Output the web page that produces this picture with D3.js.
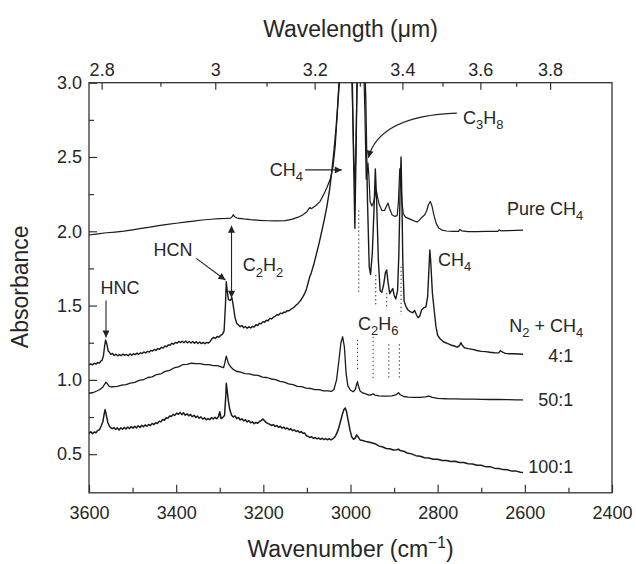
<!DOCTYPE html>
<html><head><meta charset="utf-8">
<script src="https://cdn.jsdelivr.net/npm/d3@7"></script>
<style>
body{margin:0;background:#fff}
svg{display:block}
text{font-family:"Liberation Sans",Arial,Helvetica,sans-serif;fill:#262626}
</style></head><body>
<svg id="c" width="636" height="564"></svg>
<script>
// ---------------- data ----------------
const bottomTicks = [3600,3400,3200,3000,2800,2600,2400];
const bottomMinor = [3500,3300,3100,2900,2700,2500];
const leftTicks = [0.5,1.0,1.5,2.0,2.5,3.0];
const leftMinor = [0.75,1.25,1.75,2.25,2.75];
const topTicks = [2.8,3,3.2,3.4,3.6,3.8];      // wavelength (µm)
const topMinor = [2.9,3.1,3.3,3.5,3.7];
const topCalib = [3571,2542];                   // wavenumber-axis positions of the 2.8 and 3.8 µm ticks

const seriesNames = ["Pure CH4","4:1","50:1","100:1"];

const pureCH4 = [[3600,1.975],[3580,1.983],[3560,1.990],[3540,1.995],[3520,2.001],[3500,2.010],[3480,2.020],[3460,2.028],[3440,2.038],[3420,2.046],[3400,2.054],[3380,2.062],[3360,2.069],[3340,2.076],[3320,2.081],[3300,2.085],[3285,2.087],[3275,2.089],[3271,2.100],[3269,2.112],[3266,2.098],[3260,2.089],[3245,2.083],[3230,2.078],[3210,2.074],[3190,2.071],[3170,2.070],[3150,2.072],[3135,2.080],[3120,2.095],[3110,2.110],[3100,2.132],[3096,2.150],[3093,2.160],[3090,2.152],[3080,2.172],[3070,2.200],[3062,2.245],[3054,2.295],[3046,2.355],[3040,2.435],[3035,2.575],[3031,2.760],[3027,2.980],[3024,3.150],[2998,3.150],[2995,2.800],[2992,2.450],[2990,2.320],[2988,2.500],[2985,3.000],[2982,3.150],[2970,3.150],[2967,2.800],[2964,2.350],[2962,2.400],[2960,2.460],[2958,2.380],[2955,2.200],[2951,2.170],[2947,2.195],[2944,2.235],[2941,2.280],[2938,2.230],[2934,2.180],[2928,2.140],[2922,2.140],[2918,2.165],[2914,2.190],[2910,2.150],[2905,2.112],[2898,2.100],[2893,2.105],[2890,2.200],[2887,2.420],[2885,2.380],[2882,2.200],[2879,2.120],[2874,2.095],[2866,2.085],[2858,2.075],[2852,2.068],[2847,2.062],[2842,2.075],[2836,2.095],[2830,2.110],[2825,2.140],[2821,2.180],[2817,2.200],[2813,2.170],[2808,2.100],[2803,2.050],[2797,2.020],[2790,2.008],[2780,2.002],[2765,2.000],[2752,2.000],[2749,2.012],[2745,2.003],[2730,1.998],[2710,1.998],[2690,1.999],[2670,2.000],[2662,2.000],[2659,2.010],[2655,2.003],[2640,2.004],[2620,2.006],[2604,2.008]];

const mix4to1 = [[3600,1.100],[3596,1.108],[3592,1.101],[3588,1.112],[3584,1.106],[3580,1.117],[3576,1.113],[3573,1.126],[3570,1.132],[3567,1.160],[3564,1.230],[3562,1.268],[3559,1.240],[3556,1.195],[3553,1.186],[3550,1.172],[3546,1.178],[3542,1.164],[3538,1.173],[3534,1.162],[3530,1.170],[3526,1.163],[3522,1.174],[3518,1.165],[3514,1.171],[3510,1.163],[3506,1.175],[3502,1.166],[3498,1.176],[3494,1.170],[3490,1.180],[3486,1.172],[3482,1.182],[3478,1.177],[3474,1.188],[3470,1.181],[3466,1.192],[3462,1.187],[3458,1.198],[3454,1.194],[3450,1.205],[3446,1.199],[3442,1.211],[3438,1.206],[3434,1.219],[3430,1.214],[3426,1.228],[3422,1.222],[3418,1.236],[3414,1.233],[3410,1.246],[3406,1.240],[3402,1.252],[3398,1.247],[3394,1.259],[3390,1.251],[3386,1.260],[3382,1.250],[3378,1.261],[3374,1.249],[3370,1.258],[3366,1.248],[3362,1.259],[3358,1.247],[3354,1.256],[3350,1.245],[3346,1.255],[3342,1.244],[3338,1.252],[3334,1.243],[3330,1.253],[3326,1.248],[3322,1.259],[3318,1.276],[3314,1.286],[3310,1.279],[3306,1.292],[3302,1.287],[3298,1.300],[3294,1.306],[3290,1.330],[3287,1.500],[3285,1.660],[3283,1.600],[3280,1.540],[3276,1.535],[3272,1.552],[3269,1.500],[3265,1.420],[3261,1.380],[3257,1.370],[3253,1.358],[3249,1.366],[3245,1.351],[3241,1.359],[3237,1.348],[3233,1.357],[3229,1.349],[3225,1.360],[3221,1.356],[3217,1.371],[3213,1.366],[3209,1.381],[3205,1.377],[3201,1.392],[3197,1.388],[3193,1.401],[3189,1.398],[3185,1.414],[3181,1.410],[3177,1.422],[3173,1.428],[3169,1.438],[3165,1.436],[3161,1.449],[3157,1.446],[3153,1.456],[3149,1.455],[3145,1.466],[3141,1.465],[3137,1.474],[3133,1.482],[3129,1.490],[3125,1.502],[3121,1.512],[3117,1.525],[3113,1.541],[3109,1.560],[3105,1.582],[3101,1.612],[3097,1.655],[3094,1.690],[3090,1.720],[3084,1.780],[3078,1.850],[3072,1.920],[3066,2.000],[3060,2.080],[3054,2.170],[3048,2.280],[3043,2.400],[3038,2.540],[3033,2.700],[3029,2.860],[3025,3.020],[3021,3.150],[3000,3.150],[2996,3.050],[2993,2.500],[2990,2.020],[2988,2.400],[2985,3.000],[2982,3.150],[2968,3.150],[2965,2.900],[2961,2.200],[2957,1.760],[2954,1.710],[2950,1.850],[2946,2.150],[2943,2.420],[2940,2.200],[2936,1.800],[2932,1.600],[2928,1.590],[2924,1.640],[2920,1.720],[2917,1.740],[2914,1.660],[2910,1.580],[2906,1.600],[2903,1.615],[2900,1.570],[2896,1.545],[2892,1.600],[2889,1.850],[2886,2.300],[2884,2.500],[2882,2.200],[2880,1.800],[2877,1.530],[2873,1.495],[2868,1.470],[2862,1.458],[2857,1.452],[2853,1.468],[2849,1.440],[2845,1.418],[2841,1.430],[2837,1.470],[2832,1.485],[2827,1.492],[2823,1.560],[2820,1.750],[2818,1.874],[2816,1.800],[2812,1.580],[2808,1.470],[2804,1.360],[2800,1.300],[2794,1.275],[2786,1.255],[2778,1.245],[2770,1.235],[2762,1.228],[2755,1.220],[2750,1.230],[2747,1.250],[2744,1.235],[2738,1.215],[2730,1.210],[2720,1.205],[2710,1.198],[2700,1.192],[2690,1.190],[2680,1.186],[2670,1.183],[2660,1.182],[2656,1.196],[2652,1.188],[2645,1.178],[2635,1.176],[2625,1.176],[2615,1.174],[2604,1.172]];

const mix50to1 = [[3600,0.910],[3590,0.915],[3582,0.925],[3575,0.935],[3568,0.952],[3564,0.972],[3561,0.984],[3558,0.975],[3554,0.958],[3549,0.952],[3542,0.955],[3535,0.956],[3525,0.964],[3515,0.968],[3505,0.978],[3495,0.983],[3485,0.996],[3475,1.001],[3465,1.016],[3455,1.020],[3445,1.036],[3435,1.041],[3425,1.057],[3415,1.064],[3405,1.080],[3395,1.088],[3385,1.102],[3375,1.104],[3365,1.112],[3355,1.110],[3345,1.110],[3335,1.102],[3325,1.102],[3315,1.096],[3305,1.096],[3297,1.088],[3291,1.082],[3288,1.120],[3285,1.160],[3283,1.140],[3280,1.110],[3276,1.092],[3270,1.072],[3262,1.058],[3252,1.052],[3242,1.042],[3232,1.040],[3222,1.032],[3212,1.030],[3202,1.018],[3192,1.016],[3182,1.006],[3172,1.002],[3162,0.990],[3152,0.985],[3142,0.973],[3132,0.968],[3122,0.956],[3112,0.954],[3102,0.944],[3092,0.942],[3082,0.934],[3072,0.934],[3062,0.926],[3052,0.926],[3044,0.922],[3038,0.935],[3032,1.000],[3027,1.120],[3022,1.250],[3018,1.290],[3014,1.220],[3010,1.040],[3006,0.960],[3000,0.930],[2994,0.920],[2989,0.935],[2986,0.970],[2984,0.988],[2982,0.960],[2978,0.925],[2972,0.912],[2965,0.905],[2958,0.898],[2952,0.900],[2948,0.906],[2944,0.898],[2935,0.892],[2925,0.890],[2915,0.890],[2905,0.892],[2895,0.900],[2890,0.914],[2886,0.900],[2878,0.888],[2868,0.884],[2855,0.882],[2840,0.882],[2828,0.886],[2820,0.890],[2812,0.882],[2800,0.876],[2780,0.873],[2760,0.872],[2740,0.870],[2720,0.870],[2700,0.869],[2680,0.868],[2660,0.868],[2640,0.867],[2620,0.866],[2604,0.865]];

const mix100to1 = [[3600,0.640],[3596,0.651],[3592,0.638],[3588,0.649],[3584,0.644],[3580,0.660],[3576,0.664],[3572,0.690],[3568,0.720],[3565,0.775],[3563,0.800],[3560,0.760],[3557,0.715],[3554,0.694],[3551,0.680],[3547,0.671],[3543,0.679],[3539,0.666],[3535,0.677],[3531,0.663],[3527,0.678],[3523,0.668],[3519,0.680],[3515,0.669],[3511,0.683],[3507,0.672],[3503,0.686],[3499,0.675],[3495,0.688],[3491,0.677],[3487,0.691],[3483,0.680],[3479,0.694],[3475,0.684],[3471,0.697],[3467,0.688],[3463,0.700],[3459,0.692],[3455,0.707],[3451,0.699],[3447,0.712],[3443,0.706],[3439,0.722],[3435,0.717],[3431,0.733],[3427,0.728],[3423,0.745],[3419,0.741],[3415,0.757],[3411,0.753],[3407,0.768],[3403,0.761],[3399,0.776],[3395,0.768],[3391,0.781],[3387,0.766],[3383,0.778],[3379,0.762],[3375,0.772],[3371,0.758],[3367,0.768],[3363,0.752],[3359,0.762],[3355,0.747],[3351,0.756],[3347,0.742],[3343,0.751],[3339,0.736],[3335,0.745],[3331,0.731],[3327,0.740],[3323,0.732],[3319,0.746],[3315,0.737],[3311,0.748],[3307,0.739],[3303,0.752],[3300,0.786],[3297,0.740],[3293,0.748],[3289,0.760],[3286,0.900],[3285,0.977],[3283,0.930],[3280,0.853],[3277,0.800],[3273,0.763],[3269,0.750],[3265,0.758],[3261,0.740],[3257,0.747],[3253,0.730],[3249,0.738],[3245,0.724],[3241,0.732],[3237,0.717],[3233,0.725],[3229,0.711],[3225,0.718],[3221,0.705],[3217,0.714],[3213,0.708],[3209,0.720],[3205,0.726],[3201,0.737],[3197,0.724],[3193,0.712],[3189,0.706],[3185,0.700],[3181,0.693],[3177,0.699],[3173,0.686],[3169,0.693],[3165,0.681],[3161,0.688],[3157,0.675],[3153,0.682],[3149,0.670],[3145,0.676],[3141,0.664],[3137,0.671],[3133,0.658],[3129,0.664],[3125,0.652],[3121,0.658],[3117,0.646],[3113,0.652],[3109,0.640],[3105,0.642],[3101,0.624],[3097,0.620],[3093,0.612],[3089,0.617],[3085,0.606],[3081,0.612],[3077,0.603],[3073,0.609],[3069,0.600],[3065,0.607],[3061,0.598],[3057,0.605],[3053,0.597],[3049,0.604],[3045,0.596],[3041,0.603],[3037,0.612],[3034,0.625],[3028,0.665],[3023,0.720],[3019,0.765],[3015,0.800],[3012,0.810],[3009,0.785],[3005,0.720],[3001,0.660],[2997,0.615],[2993,0.600],[2989,0.610],[2986,0.630],[2983,0.618],[2978,0.596],[2972,0.592],[2965,0.586],[2958,0.582],[2950,0.575],[2942,0.568],[2934,0.554],[2926,0.548],[2918,0.538],[2910,0.536],[2902,0.528],[2894,0.530],[2890,0.534],[2886,0.524],[2878,0.520],[2870,0.508],[2860,0.502],[2850,0.490],[2840,0.486],[2830,0.476],[2820,0.474],[2810,0.466],[2800,0.466],[2790,0.458],[2780,0.458],[2770,0.451],[2760,0.452],[2750,0.444],[2740,0.444],[2730,0.436],[2720,0.434],[2710,0.426],[2700,0.425],[2690,0.416],[2680,0.416],[2670,0.406],[2660,0.404],[2650,0.396],[2640,0.395],[2630,0.386],[2620,0.386],[2610,0.379],[2604,0.376]];

// C2H6 marker lines: [wavenumber, top absorbance, bottom absorbance]
const c2h6Upper = [[2981,2.14,1.59],[2942,1.706,1.503],[2917,1.585,1.49],[2884,1.762,1.437]];
const c2h6Lower = [[2984,1.27,1.06],[2948,1.29,1.01],[2912,1.24,1.01],[2888,1.24,1.00]];

// ---------------- chart ----------------
const svg = d3.select("#c");
const M = {l:89, r:612, t:82.7, b:492.8};
const x = d3.scaleLinear().domain([3600,2400]).range([M.l,M.r]);
const y = d3.scaleLinear().domain([0.24,3.0]).range([M.b,M.t]);
const xTop = d3.scaleLinear().domain([10000/2.8,10000/3.8]).range([x(topCalib[0]), x(topCalib[1])]);

const defs = svg.append("defs");
defs.append("clipPath").attr("id","clip").append("rect")
  .attr("x",M.l).attr("y",M.t).attr("width",M.r-M.l).attr("height",M.b-M.t);
defs.append("marker").attr("id","ah").attr("viewBox","0 0 10 10").attr("refX",10).attr("refY",5)
  .attr("markerWidth",11).attr("markerHeight",7).attr("markerUnits","userSpaceOnUse")
  .attr("orient","auto-start-reverse")
  .append("path").attr("d","M0,0L10,5L0,10z").attr("fill","#222");

const AX = "#333";
function styleAxis(g, fs){
  g.select(".domain").remove();
  g.selectAll(".tick line").attr("stroke",AX).attr("stroke-width",1.2);
  g.selectAll(".tick text").attr("font-size",fs).attr("fill","#262626")
    .attr("font-family",'"Liberation Sans",Arial,sans-serif');
  g.attr("font-family",null).attr("font-size",null);
}

// bottom
styleAxis(svg.append("g").attr("transform",`translate(0,${M.b})`)
  .call(d3.axisBottom(x).tickValues(bottomTicks).tickSize(-8).tickPadding(13).tickFormat(d3.format("d"))),18);
styleAxis(svg.append("g").attr("transform",`translate(0,${M.b})`)
  .call(d3.axisBottom(x).tickValues(bottomMinor).tickSize(-5).tickFormat("")),18);
// left
styleAxis(svg.append("g").attr("transform",`translate(${M.l},0)`)
  .call(d3.axisLeft(y).tickValues(leftTicks).tickSize(-8).tickPadding(7).tickFormat(d3.format(".1f"))),18);
styleAxis(svg.append("g").attr("transform",`translate(${M.l},0)`)
  .call(d3.axisLeft(y).tickValues(leftMinor).tickSize(-5).tickFormat("")),18);
// top
styleAxis(svg.append("g").attr("transform",`translate(0,${M.t})`)
  .call(d3.axisTop(xTop).tickValues(topTicks.map(m=>10000/m)).tickSize(-7).tickPadding(7)
    .tickFormat(d=>String(+(10000/d).toFixed(1)))),18);
styleAxis(svg.append("g").attr("transform",`translate(0,${M.t})`)
  .call(d3.axisTop(xTop).tickValues(topMinor.map(m=>10000/m)).tickSize(-4).tickFormat("")),18);

// frame
svg.append("rect").attr("x",M.l).attr("y",M.t).attr("width",M.r-M.l).attr("height",M.b-M.t)
  .attr("fill","none").attr("stroke",AX).attr("stroke-width",1.3);

// spectra
const line = d3.line().x(d=>x(d[0])).y(d=>y(d[1]));
const plot = svg.append("g").attr("clip-path","url(#clip)");
[[pureCH4,1.2],[mix4to1,1.4],[mix50to1,1.3],[mix100to1,1.5]].forEach(([s,w])=>{
  plot.append("path").datum(s).attr("d",line).attr("fill","none")
    .attr("stroke","#1a1a1a").attr("stroke-width",w).attr("stroke-linejoin","round");
});

// dotted C2H6 markers
[...c2h6Upper,...c2h6Lower].forEach(([w,a,b])=>{
  svg.append("line").attr("x1",x(w)).attr("x2",x(w)).attr("y1",y(a)).attr("y2",y(b))
    .attr("stroke","#333").attr("stroke-width",1).attr("stroke-dasharray","1.4,2.6");
});

// rich text helper (sub/superscripts)
function rich(px,py,parts,anchor,size){
  const t = svg.append("text").attr("x",px).attr("y",py).attr("text-anchor",anchor||"start").attr("font-size",size);
  let shift = 0;
  parts.forEach(p=>{
    let target=0, txt=p, fs=null;
    if (typeof p!=="string"){
      if (p.sub!==undefined){target=size*0.3; txt=p.sub; fs=size*0.72;}
      else {target=-size*0.38; txt=p.sup; fs=size*0.68;}
    }
    const ts=t.append("tspan").attr("dy",(target-shift).toFixed(2)).text(txt);
    if(fs) ts.attr("font-size",fs);
    shift=target;
  });
  return t;
}
function arrow(p1,p2,both){
  const l=svg.append("line").attr("x1",x(p1[0])).attr("y1",y(p1[1])).attr("x2",x(p2[0])).attr("y2",y(p2[1]))
    .attr("stroke","#222").attr("stroke-width",1.1).attr("marker-end","url(#ah)");
  if(both) l.attr("marker-start","url(#ah)");
}

const FS=18;
// HNC
rich(x(3529),y(1.578),["HNC"],"middle",FS);
arrow([3561,1.535],[3561,1.285]);
// HCN
rich(x(3407),y(1.834),["HCN"],"middle",FS);
arrow([3354,1.818],[3287,1.672]);
// C2H2
arrow([3273,1.552],[3273,2.037],true);
rich(x(3247),y(1.732),["C",{sub:"2"},"H",{sub:"2"}],"start",FS);
// CH4 (left)
rich(x(3185),y(2.372),["CH",{sub:"4"}],"start",FS);
arrow([3104,2.413],[3020,2.413]);
// C3H8
rich(x(2742),y(2.722),["C",{sub:"3"},"H",{sub:"8"}],"start",FS);
svg.append("path")
  .attr("d",`M${x(2756)},${y(2.795)} C${x(2886)},${y(2.782)} ${x(2944)},${y(2.66)} ${x(2959)},${y(2.495)}`)
  .attr("fill","none").attr("stroke","#222").attr("stroke-width",1.1).attr("marker-end","url(#ah)");
// Pure CH4
rich(x(2466),y(2.11),["Pure CH",{sub:"4"}],"end",FS);
// CH4 right
rich(x(2799),y(1.766),["CH",{sub:"4"}],"start",FS);
// N2 + CH4
rich(x(2466),y(1.323),["N",{sub:"2"}," + CH",{sub:"4"}],"end",FS);
// C2H6
rich(x(2983),y(1.336),["C",{sub:"2"},"H",{sub:"6"}],"start",FS);
// ratios
rich(x(2489),y(1.12),[seriesNames[1]],"end",FS);
rich(x(2489),y(0.825),[seriesNames[2]],"end",FS);
rich(x(2489),y(0.374),[seriesNames[3]],"end",FS);

// axis titles
rich((M.l+M.r)/2,557,["Wavenumber (cm",{sup:"\u22121"},")"],"middle",23);
rich((M.l+M.r)/2,37,["Wavelength (\u03bcm)"],"middle",23);
svg.append("text").attr("transform",`translate(28,${(M.t+M.b)/2-1})rotate(-90)`)
  .attr("text-anchor","middle").attr("font-size",23).text("Absorbance");
</script>
</body></html>
